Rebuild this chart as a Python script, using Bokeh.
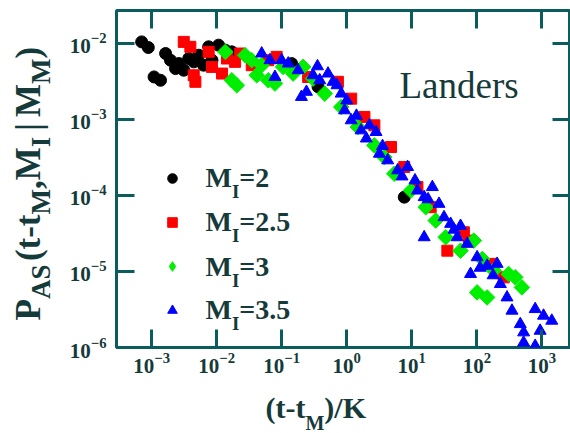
import math
from bokeh.plotting import figure
from bokeh.layouts import row, column
from bokeh.models import (LogAxis, FixedTicker, Label, Legend, LegendItem, Range1d)
from bokeh.core.properties import value
from bokeh.embed import file_html
from bokeh.resources import INLINE

# ---- data: scaled aftershock rate vs scaled time, one series per threshold M_I ----
m2_x = [7.03e-4, 8.89e-4, 1.09e-3, 1.37e-3, 1.64e-3, 1.95e-3, 2.33e-3, 2.62e-3, 3.12e-3,
        3.72e-3, 4.44e-3, 5.30e-3, 6.31e-3, 7.53e-3, 8.47e-3, 1.07e-2, 1.36e-2, 1.71e-2,
        0.142, 0.362, 7.66]
m2_y = [1.05e-2, 8.85e-3, 3.63e-3, 3.28e-3, 7.38e-3, 6.03e-3, 4.68e-3, 5.45e-3, 4.45e-3,
        6.34e-3, 5.73e-3, 7.01e-3, 5.18e-3, 9.04e-3, 6.03e-3, 9.51e-3, 8.17e-3, 7.76e-3,
        5.44e-3, 2.69e-3, 9.51e-5]

m25_x = [3.12e-3, 3.94e-3, 4.71e-3, 4.44e-3, 7.53e-3, 8.47e-3, 1.21e-2, 1.44e-2, 1.92e-2,
         2.30e-2, 3.46e-2, 6.22e-2, 8.36e-2, 0.255, 0.731, 1.17, 1.87, 2.66, 4.79, 7.66,
         12.2, 19.5, 35.2, 63.2, 75.5, 162, 259]
m25_y = [1.05e-2, 9.04e-3, 3.13e-3, 3.82e-3, 7.76e-3, 4.92e-3, 4.02e-3, 6.34e-3, 5.73e-3,
         7.38e-3, 5.18e-3, 6.03e-3, 6.67e-3, 3.63e-3, 3.13e-3, 1.88e-3, 1.08e-3, 8.38e-4,
         4.34e-4, 2.37e-4, 1.29e-4, 7.01e-5, 1.88e-5, 3.28e-5, 2.55e-5, 1.26e-5, 8.38e-6]

m3_x = [1.36e-2, 1.71e-2, 2.04e-2, 2.74e-2, 3.46e-2, 4.13e-2, 4.92e-2, 6.22e-2, 7.87e-2,
        0.105, 0.150, 0.213, 0.303, 0.458, 0.822, 1.48, 2.66, 3.78, 5.38, 9.68, 16.4,
        23.3, 33.2, 56.2, 89.9, 121, 182, 308, 390, 493, 144, 101]
m3_y = [7.76e-3, 3.28e-3, 2.82e-3, 7.01e-3, 6.03e-3, 3.82e-3, 5.18e-3, 3.28e-3, 2.97e-3,
        4.92e-3, 4.02e-3, 4.92e-3, 3.45e-3, 2.19e-3, 1.46e-3, 7.96e-4, 4.56e-4, 3.20e-4,
        1.93e-4, 1.16e-4, 7.01e-5, 4.68e-5, 2.82e-5, 1.88e-5, 2.55e-5, 1.46e-5, 1.03e-5,
        9.27e-6, 8.38e-6, 6.18e-6, 4.56e-6, 5.31e-6]

m35_x = [4.92e-2, 6.61e-2, 7.87e-2, 9.95e-2, 0.126, 0.179, 0.201, 0.240, 0.303, 0.384,
         0.515, 0.614, 0.822, 0.925, 1.17, 1.66, 2.23, 2.82, 3.18, 4.26, 6.05, 8.61,
         12.2, 15.5, 20.7, 26.2, 31.3, 39.5, 15.5, 50.0, 71.1, 101, 144, 80.0, 205, 230,
         291, 347, 466, 524, 789, 1060, 1420, 940, 524, 789,
         0.355, 0.708, 1.0, 1.41, 2.0, 3.55, 7.08, 11.2, 17.8, 44.7, 56.2, 112, 178]
m35_y = [7.38e-3, 6.03e-3, 3.63e-3, 6.03e-3, 5.45e-3, 4.45e-3, 1.98e-3, 2.31e-3, 3.82e-3,
         3.28e-3, 4.02e-3, 3.13e-3, 2.19e-3, 1.32e-3, 9.75e-4, 7.19e-4, 8.38e-4, 6.84e-4,
         3.54e-4, 2.90e-4, 2.14e-4, 2.37e-4, 1.16e-4, 9.51e-5, 1.29e-4, 7.76e-5, 5.18e-5,
         4.23e-5, 2.82e-5, 2.82e-5, 2.31e-5, 1.54e-5, 1.19e-5, 9.27e-6, 1.26e-5, 6.84e-6,
         4.56e-6, 3.05e-6, 2.03e-6, 1.58e-6, 3.20e-6, 2.62e-6, 2.25e-6, 1.66e-6, 1.16e-6,
         1.05e-6,
         5.01e-3, 2.82e-3, 1.78e-3, 1.12e-3, 5.62e-4, 4.47e-4, 1.78e-4, 1.58e-4, 8.91e-5,
         3.55e-5, 3.98e-5, 1.12e-5, 8.91e-6]

legend_values = ["2", "2.5", "3", "3.5"]
x_ticks = [1e-3, 1e-2, 1e-1, 1e0, 1e1, 1e2, 1e3]
y_ticks = [1e-6, 1e-5, 1e-4, 1e-3, 1e-2]

# ---- styling / page geometry (pixels from the top-left of the page) ----
FONT = "Liberation Serif"
FRAME = "#0b5c5c"
INK = "#153a3a"
GREEN = "#00ee00"
W, H = 570, 433
STRIP_W = 66            # left strip holding the rotated y title
MAIN_H = 390            # height of the main plot; the x title strip sits below it
FRAME_L, FRAME_B = 113, 347
BASE_SHIFT = 0.34       # Bokeh places an "alphabetic" label this many ems below y

main = figure(width=W - STRIP_W, height=MAIN_H, x_axis_type="log", y_axis_type="log",
              x_range=Range1d(10 ** -3.54, 10 ** 3.44), y_range=Range1d(1e-6, 10 ** -1.566),
              output_backend="svg", toolbar_location=None,
              min_border_left=FRAME_L - STRIP_W, min_border_right=0, min_border_top=10,
              min_border_bottom=MAIN_H - FRAME_B)
main.background_fill_color = "white"
main.border_fill_color = "white"
main.outline_line_color = FRAME
main.outline_line_width = 3
main.grid.visible = False

main.xaxis.ticker = FixedTicker(ticks=x_ticks, minor_ticks=[])
main.yaxis.ticker = FixedTicker(ticks=y_ticks, minor_ticks=[])
main.add_layout(LogAxis(ticker=FixedTicker(ticks=x_ticks, minor_ticks=[])), "above")
main.add_layout(LogAxis(ticker=FixedTicker(ticks=y_ticks, minor_ticks=[])), "right")

for ax in main.axis:
    ax.axis_line_color = None
    ax.major_tick_in = 18
    ax.major_tick_out = 0
    ax.major_tick_line_color = FRAME
    ax.major_tick_line_width = 3
    ax.minor_tick_line_color = None
    ax.major_label_text_font = FONT
    ax.major_label_text_font_style = "bold"
    ax.major_label_text_font_size = "21px"
    ax.major_label_text_color = INK
for ax in main.above + main.right:
    ax.major_label_text_font_size = "1px"
    ax.major_label_text_alpha = 0
    ax.major_label_standoff = 0
main.xaxis[0].major_label_standoff = 20
main.yaxis[0].major_label_standoff = 10

# ---- scatter series ----
r2 = main.scatter(m2_x, m2_y, marker="circle", size=12, color="black")
r25 = main.scatter(m25_x, m25_y, marker="square", size=11, color="#ff0000")
# slim diamonds underneath the turned squares: they give the legend its diamond key
k3 = main.scatter(m3_x, m3_y, marker="diamond", size=10, color=GREEN)
r3 = main.scatter(m3_x, m3_y, marker="square", angle=math.pi / 4, size=11, color=GREEN)
r35 = main.scatter(m35_x, m35_y, marker="triangle", size=12, color="#0000ff")

legend = Legend(items=[LegendItem(label=value(" "), renderers=[r]) for r in (r2, r25, k3, r35)],
                location=(44, 25), orientation="vertical", glyph_width=24, glyph_height=24,
                label_height=24, label_width=2, label_standoff=0, spacing=20, padding=0,
                margin=0, border_line_color=None, background_fill_alpha=0,
                label_text_font_size="2px")
main.add_layout(legend)


def strip(width, height):
    f = figure(width=width, height=height, x_range=Range1d(0, 1), y_range=Range1d(0, 1),
               x_axis_location=None, y_axis_location=None, output_backend="svg",
               toolbar_location=None, min_border=0)
    f.outline_line_color = None
    f.grid.visible = False
    f.background_fill_color = "white"
    f.border_fill_color = "white"
    return f


left = strip(STRIP_W, H)
bottom = strip(W - STRIP_W, H - MAIN_H)

# ---- composite text with subscripts (Times advance widths, per 1000 em) ----
ADV = {"P": 611, "A": 722, "S": 556, "(": 333, ")": 333, "t": 333, "-": 333, "M": 944,
       ",": 250, "I": 389, "|": 220, " ": 250, "/": 278, "K": 778, "=": 570, "2": 500,
       ".": 250, "5": 500, "3": 500}


def advance(s, size):
    return sum(ADV.get(c, 500) for c in s) / 1000 * size


def add_run(fig, origin, parts, x0, y0, vertical=False, style="bold"):
    """Lay out (text, size, drop) pieces one after another; a drop lowers a subscript."""
    ox, oy = origin
    pos = 0.0
    for text, size, drop in parts:
        if text.strip():
            lift = BASE_SHIFT * size
            if vertical:
                cx, cy, ang = x0 + drop - lift, y0 - pos, math.pi / 2
            else:
                cx, cy, ang = x0 + pos, y0 + drop - lift, 0
            fig.add_layout(Label(x=cx - ox, y=oy - cy, x_units="screen", y_units="screen",
                                 text=text, angle=ang, text_font=FONT,
                                 text_font_size=f"{size}px", text_font_style=style,
                                 text_color=INK, text_align="left",
                                 text_baseline="alphabetic"))
        pos += advance(text, size)


# y-axis title: P_AS(t-t_M, M_I | M_M)
add_run(left, (0, H),
        [("P", 35, 0), ("AS", 27, 10), (" ", 14, 0), ("(t-t", 35, 0), ("M", 27, 10),
         (",", 35, 0), ("M", 35, 0), ("I", 27, 10), (" ", 24, 0), ("|", 35, 0),
         (" ", 24, 0), ("M", 35, 0), ("M", 27, 10), (")", 35, 0)], 40, 320, vertical=True)
# x-axis title: (t-t_M)/K  -- the strip's frame is aligned with the main frame
add_run(bottom, (FRAME_L, H), [("(t-t", 30, 0), ("M", 20, 12), (")/K", 30, 0)], 262, 417)
# legend texts
for v, base in zip(legend_values, [187, 231, 276, 319]):
    add_run(main, (FRAME_L, FRAME_B), [("M", 28, 0), ("I", 19, 10), ("=" + v, 28, 0)], 202, base)

add_run(main, (FRAME_L, FRAME_B), [("Landers", 37, 0)], 396, 98, style="normal")

layout = row(left, column(main, bottom, spacing=0), spacing=0)
open("out.html", "w").write(file_html(layout, INLINE))
